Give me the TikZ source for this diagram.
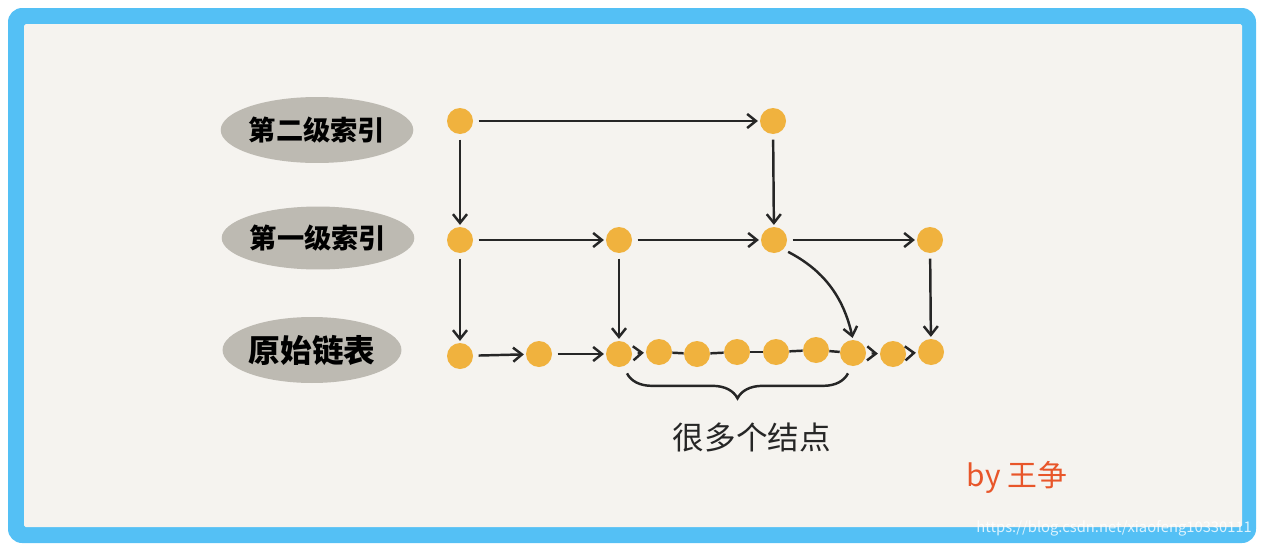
\documentclass[tikz,border=0pt]{standalone}
\usepackage{fontspec}
\setmainfont{Noto Sans CJK SC}
\usepackage{tikz}
\usetikzlibrary{arrows.meta,shapes.geometric,decorations.pathreplacing}
\definecolor{frameblue}{RGB}{84,192,245}
\definecolor{paper}{RGB}{245,243,239}
\definecolor{dotorange}{RGB}{240,178,62}
\definecolor{blobgray}{RGB}{189,186,178}
\definecolor{ink}{RGB}{38,38,38}
\definecolor{signred}{RGB}{232,86,42}

\begin{document}
\begin{tikzpicture}[x=0.02cm, y=-0.02cm,
    dot/.style={circle, fill=dotorange, minimum size=0.52cm, inner sep=0pt},
    blob/.style={ellipse, fill=blobgray, inner sep=0pt, text=black,
                 font=\fontsize{15.5}{18}\selectfont\bfseries},
    link/.style={draw=ink, line width=1.4pt, shorten <=3pt, shorten >=1pt,
                 -{Straight Barb[length=5pt, width=8pt]}},
    plain/.style={draw=ink, line width=1.4pt},
    note/.style={font=\fontsize{18}{20}\selectfont, text=ink}]
  % frame
  \useasboundingbox (0,0) rectangle (1264,548);
  \fill[frameblue, rounded corners=8pt] (8,8) rectangle (1256,543);
  \fill[paper, rounded corners=1pt] (24,24) rectangle (1242,527);
  % row labels
  \node[blob, minimum width=3.58cm, minimum height=1.32cm] (l2) at (317,130) {第二级索引};
  \node[blob, minimum width=3.42cm, minimum height=1.26cm] (l1) at (318,238) {第一级索引};
  \node[blob, minimum width=3.26cm, minimum height=1.32cm,
        font=\fontsize{18}{20}\selectfont\bfseries] (l0) at (312,350) {原始链表};
  % the three rows of nodes
  \node[dot] (t1) at (460,121) {};
  \node[dot] (t2) at (773,121) {};
  \foreach \n/\x in {1/460, 2/619, 3/774, 4/930}
    \node[dot] (m\n) at (\x,240) {};
  \foreach \n/\x/\y in {1/460/356, 2/539/354, 3/619/354, 4/659/352, 5/697/354, 6/737/352,
                        7/776/352, 8/816/350, 9/853/353, 10/893/354, 11/931/352}
    \node[dot] (b\n) at (\x,\y) {};
  % links
  \draw[link] (t1) -- (t2);
  \draw[link] (t1) -- (m1);
  \draw[link] (t2) -- (m3);
  \foreach \a/\b in {1/2, 2/3, 3/4}
    \draw[link] (m\a) -- (m\b);
  \draw[link] (m1) -- (b1);
  \draw[link] (m2) -- (b3);
  \draw[link] (m4) -- (b11);
  \draw[link] (m3.south east) to[bend left=25] (b9.north);
  \foreach \a/\b in {1/2, 2/3, 3/4, 9/10, 10/11}
    \draw[link] (b\a) -- (b\b);
  \foreach \a/\b in {4/5, 5/6, 6/7, 7/8, 8/9}
    \draw[plain] (b\a) -- (b\b);
  % the many nodes in between
  \draw[plain, decorate, decoration={brace, mirror, amplitude=0.5cm}]
    ([shift={(8,6)}]b3.south) -- ([shift={(-5,7)}]b9.south);
  \node[note] (many) at (752,437) {很多个结点};
  % signature and watermark
  \node[font=\fontsize{17}{19}\selectfont, text=signred] (sig) at (1017,477) {by 王争};
  \node[font=\fontsize{8.4}{10}\selectfont, text=white, opacity=0.8, anchor=east,
        inner sep=1pt] (wm) at (1254,528) {https://blog.csdn.net/xiaofeng10330111};
\end{tikzpicture}
\end{document}
